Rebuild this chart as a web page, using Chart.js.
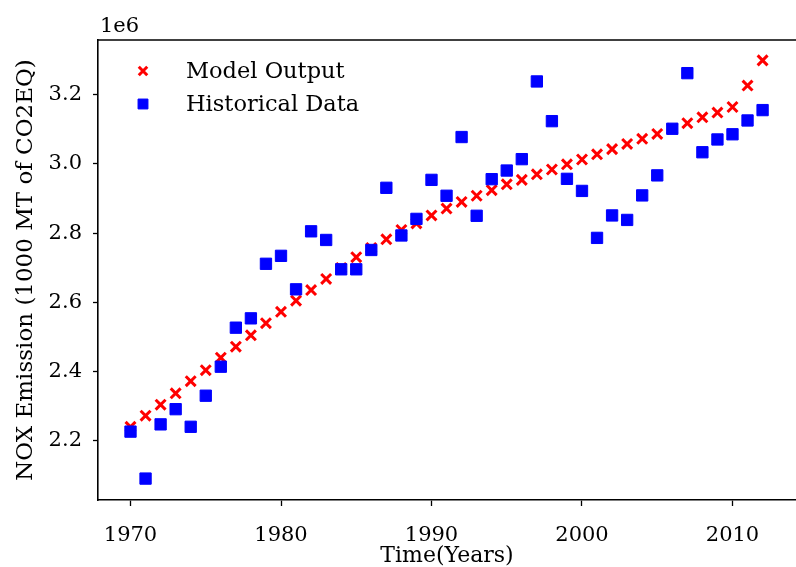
<!DOCTYPE html>
<html>
<head>
<meta charset="utf-8">
<script src="https://cdn.jsdelivr.net/npm/chart.js@4"></script>
<style>
  html, body { margin: 0; padding: 0; background: #fff; }
  #wrap { width: 796px; height: 567px; }
</style>
</head>
<body>
<div id="wrap"><canvas id="noxCanvas" width="796" height="567"></canvas></div>
<script>
// data (values in MT, axis shows x1e6)
const years = [1970, 1971, 1972, 1973, 1974, 1975, 1976, 1977, 1978, 1979,
               1980, 1981, 1982, 1983, 1984, 1985, 1986, 1987, 1988, 1989,
               1990, 1991, 1992, 1993, 1994, 1995, 1996, 1997, 1998, 1999,
               2000, 2001, 2002, 2003, 2004, 2005, 2006, 2007, 2008, 2009,
               2010, 2011, 2012];
const modelOutput = [2.239, 2.271, 2.303, 2.336, 2.371, 2.403, 2.439, 2.471, 2.504, 2.539,
                     2.572, 2.604, 2.635, 2.667, 2.699, 2.730, 2.757, 2.782, 2.809, 2.828,
                     2.851, 2.871, 2.890, 2.908, 2.924, 2.941, 2.954, 2.970, 2.984, 2.999,
                     3.013, 3.028, 3.043, 3.058, 3.073, 3.087, 3.102, 3.118, 3.135, 3.149,
                     3.165, 3.227, 3.300].map(v => v * 1e6);
const historical = [2.225, 2.089, 2.246, 2.290, 2.239, 2.329, 2.413, 2.526, 2.553, 2.711,
                    2.734, 2.637, 2.805, 2.780, 2.695, 2.695, 2.751, 2.931, 2.793, 2.841,
                    2.954, 2.908, 3.078, 2.850, 2.956, 2.981, 3.014, 3.239, 3.124, 2.957,
                    2.922, 2.786, 2.851, 2.838, 2.909, 2.967, 3.102, 3.263, 3.034, 3.071,
                    3.086, 3.126, 3.156].map(v => v * 1e6);
const xTicks = [1970, 1980, 1990, 2000, 2010];
const yTicks = [2.2e6, 2.4e6, 2.6e6, 2.8e6, 3.0e6, 3.2e6];

Chart.defaults.font.family = "'DejaVu Serif', serif";
Chart.defaults.color = "#000";

const toPoints = (ys) => years.map((yr, i) => ({ x: yr, y: ys[i] }));

// frame top line, offset text and legend inside the plot
const extrasPlugin = {
  id: "extras",
  afterDraw(chart) {
    const { ctx, chartArea } = chart;
    ctx.save();
    ctx.strokeStyle = "#000";
    ctx.lineWidth = 1.6;
    ctx.beginPath();
    ctx.moveTo(chartArea.left, chartArea.top);
    ctx.lineTo(chartArea.right, chartArea.top);
    ctx.stroke();

    ctx.fillStyle = "#000";
    ctx.font = "21px 'DejaVu Serif'";
    ctx.textAlign = "left";
    ctx.textBaseline = "alphabetic";
    ctx.fillText("1e6", chartArea.left + 2, chartArea.top - 8);

    ctx.font = "22.5px 'DejaVu Serif'";
    ctx.textBaseline = "middle";
    chart.data.datasets.forEach((ds, i) => {
      const y = 71 + i * 33;
      ctx.fillStyle = ds.backgroundColor;
      ctx.strokeStyle = ds.borderColor;
      ctx.lineWidth = ds.borderWidth;
      Chart.helpers.drawPoint(ctx, {
        pointStyle: ds.pointStyle,
        radius: ds.legendRadius,
        borderWidth: ds.borderWidth,
      }, 143, y);
      ctx.fillStyle = "#000";
      ctx.fillText(ds.label, 186, y + 1);
    });
    ctx.restore();
  }
};

new Chart(document.getElementById("noxCanvas"), {
  type: "scatter",
  data: {
    datasets: [
      {
        label: "Model Output",
        data: toPoints(modelOutput),
        pointStyle: "crossRot",
        pointRadius: 7,
        legendRadius: 6,
        borderWidth: 3,
        borderColor: "#ff0000",
        backgroundColor: "#ff0000",
        order: 2
      },
      {
        label: "Historical Data",
        data: toPoints(historical),
        pointStyle: "rect",
        pointRadius: 8,
        legendRadius: 7,
        borderWidth: 1,
        borderColor: "#0000ff",
        backgroundColor: "#0000ff",
        order: 1
      }
    ]
  },
  options: {
    responsive: false,
    animation: false,
    layout: { autoPadding: false, padding: { top: 40, right: 0, bottom: 0, left: 0 } },
    plugins: {
      legend: { display: false },
      tooltip: { enabled: false }
    },
    scales: {
      x: {
        type: "linear",
        min: 1967.84,
        max: 2014.22,
        afterBuildTicks: (scale) => { scale.ticks = xTicks.map(v => ({ value: v })); },
        afterFit: (scale) => {
          scale.height = 67;
          scale.paddingLeft = 0;
          scale.paddingRight = 0;
        },
        grid: { drawOnChartArea: false, drawTicks: true, tickLength: 6, tickColor: "#000", tickWidth: 1.3 },
        border: { display: true, color: "#000", width: 1.6 },
        ticks: { font: { size: 21 }, padding: 17, maxRotation: 0, color: "#000", callback: (v) => String(v) },
        title: { display: true, text: "Time(Years)", font: { size: 22 }, padding: { top: 0, bottom: -2 }, color: "#000" }
      },
      y: {
        type: "linear",
        min: 2.027e6,
        max: 3.359e6,
        afterBuildTicks: (scale) => { scale.ticks = yTicks.map(v => ({ value: v })); },
        afterFit: (scale) => {
          scale.width = 98;
          scale.paddingTop = 0;
          scale.paddingBottom = 0;
        },
        grid: { drawOnChartArea: false, drawTicks: true, tickLength: 5, tickColor: "#000", tickWidth: 1.3 },
        border: { display: true, color: "#000", width: 1.6 },
        ticks: {
          font: { size: 21 },
          padding: 11,
          color: "#000",
          callback: (v) => (v / 1e6).toFixed(1)
        },
        title: { display: true, text: "NOX Emission (1000 MT of CO2EQ)", font: { size: 23 }, padding: { top: 12, bottom: 0 }, color: "#000" }
      }
    }
  },
  plugins: [extrasPlugin]
});
</script>
</body>
</html>
